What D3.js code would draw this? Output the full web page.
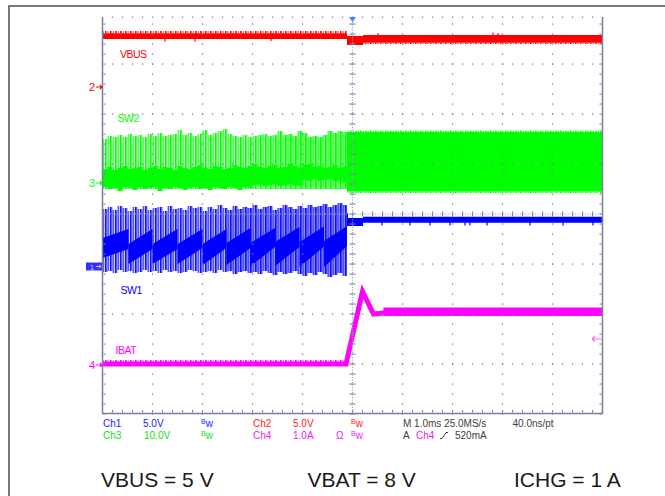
<!DOCTYPE html>
<html>
<head>
<meta charset="utf-8">
<script src="https://cdn.jsdelivr.net/npm/d3@7"></script>
<style>
  body { margin: 0; background: #fff; }
  svg text { font-family: "Liberation Sans", Arial, sans-serif; }
</style>
</head>
<body>
<svg id="scope"></svg>
<script>
var width = 665;
var height = 496;

// ---- values; time in ms, trigger at 0 ----

// sample times before the switch-over (every 0.1 ms)
var tBefore = [-5.0, -4.9, -4.8, -4.7, -4.6, -4.5, -4.4, -4.3, -4.2, -4.1,
               -4.0, -3.9, -3.8, -3.7, -3.6, -3.5, -3.4, -3.3, -3.2, -3.1,
               -3.0, -2.9, -2.8, -2.7, -2.6, -2.5, -2.4, -2.3, -2.2, -2.1,
               -2.0, -1.9, -1.8, -1.7, -1.6, -1.5, -1.4, -1.3, -1.2, -1.1,
               -1.0, -0.9, -0.8, -0.7, -0.6, -0.5, -0.4, -0.3, -0.2, -0.11];

// VBUS (Ch2, V)
var vbusT  = [-5.0, -0.11, -0.11, 0.21, 0.21, 5.0];
var vbusHi = [5.37, 5.37, 5.1, 5.1, 5.2, 5.2];
var vbusLo = [4.8, 4.8, 4.2, 4.2, 4.43, 4.43];
var vbusRipple = [5.6, 4.3];           // top ripple before, bottom ripple after
var vbusSpikes = [[-3.75, 4.8, 4.55], [-3.15, 4.8, 4.55], [-1.63, 4.8, 4.6],
                  [0.51, 5.2, 5.4], [2.81, 5.2, 5.45], [2.91, 5.2, 5.4]];

// SW2 (Ch3, V) - burst envelope, dense band, then continuous switching
var sw2EnvHi = [8.8, 9.4, 9.2, 9.6, 9.2, 9.8, 9.4, 9.6, 9.2, 9.8,
                9.4, 10.0, 9.4, 9.6, 9.8, 10.6, 9.6, 10.0, 9.4, 9.8,
                10.6, 9.6, 10.0, 10.4, 10.8, 9.8, 9.4, 9.2, 9.6, 9.2,
                9.4, 9.6, 9.8, 9.4, 9.6, 10.4, 9.6, 9.8, 9.4, 10.4,
                10.0, 9.2, 9.4, 9.2, 9.6, 10.4, 10.0, 10.4, 10.2, 10.4];
var sw2EnvLo = -1.2;
var sw2BandHi = [2.8, 3.2, 2.6, 3.0, 3.4, 2.8, 3.0, 3.2, 2.6, 3.0,
                 3.4, 2.8, 3.2, 3.0, 2.6, 3.4, 3.0, 2.8, 3.2, 3.6,
                 3.0, 2.8, 3.4, 3.2, 2.8, 3.0, 3.6, 3.2, 3.0, 3.4,
                 3.8, 3.2, 3.0, 3.4, 3.6, 3.0, 3.2, 3.8, 3.4, 3.0,
                 3.6, 3.8, 3.2, 3.4, 3.0, 3.2, 3.6, 3.0, 3.4, 3.2];
var sw2BandLo = [-0.8, -1.2, -1.0, -1.6, -0.8, -1.0, -1.4, -0.8, -1.2, -1.0,
                 -0.8, -1.6, -1.0, -1.2, -0.8, -1.0, -1.4, -1.0, -0.8, -1.2,
                 -1.0, -1.4, -0.8, -1.0, -1.2, -0.8, -1.0, -1.4, -0.8, -1.0,
                 -0.4, -0.2, -0.6, -0.4, -0.2, -0.6, -0.4, -0.2, -0.4, -0.6,
                 0.6, 0.4, 0.8, 0.4, 0.6, 0.8, 0.4, 0.6, 0.2, 0.6];
var sw2AfterT  = [-0.11, 5.0];
var sw2AfterHi = [10.2, 10.2];
var sw2AfterLo = [-1.7, -1.7];
var sw2Ripple  = [10.5, -2.0];

// SW1 (Ch1, V)
var sw1EnvHi = [5.75, 5.95, 5.65, 6.05, 5.85, 5.55, 5.95, 5.75, 6.05, 5.65,
                5.85, 5.95, 5.55, 6.05, 5.75, 5.85, 5.65, 6.05, 5.85, 5.95,
                5.55, 5.95, 5.75, 6.15, 5.85, 5.65, 6.05, 5.75, 5.95, 5.85,
                6.15, 5.75, 5.95, 6.05, 5.65, 5.85, 6.15, 5.95, 5.75, 6.05,
                5.85, 6.15, 5.95, 6.05, 6.25, 5.95, 6.15, 6.35, 6.15, 6.25];
var sw1EnvLo = [-0.55, -0.45, -0.65, -0.35, -0.55, -0.45, -0.65, -0.55, -0.35, -0.55,
                -0.45, -0.65, -0.35, -0.55, -0.45, -0.65, -0.55, -0.35, -0.45, -0.65,
                -0.55, -0.45, -0.65, -0.35, -0.55, -0.45, -0.75, -0.55, -0.45, -0.65,
                -0.55, -0.75, -0.45, -0.65, -0.85, -0.55, -0.75, -0.65, -0.45, -0.75,
                -0.95, -0.65, -0.85, -0.55, -0.75, -1.05, -0.85, -0.65, -0.95, -0.75];
// sawtooth average of the burst, one ramp per burst period
var sw1SawT0 = [-5.0, -4.48, -4.0, -3.5, -3.0, -2.52, -2.04, -1.55, -1.06, -0.57];
var sw1SawT1 = [-4.48, -4.0, -3.5, -3.0, -2.52, -2.04, -1.55, -1.06, -0.57, -0.11];
var sw1SawStartHi = [2.85, 2.25, 2.25, 2.25, 2.25, 2.35, 2.35, 2.45, 2.45, 2.55];
var sw1SawStartLo = [0.85, 0.25, 0.25, 0.25, 0.15, 0.15, 0.05, 0.05, -0.05, -0.05];
var sw1SawEndHi = [3.75, 3.75, 3.75, 3.75, 3.75, 3.85, 3.85, 3.95, 4.0, 4.05];
var sw1SawEndLo = [1.75, 1.75, 1.75, 1.85, 1.85, 1.85, 1.95, 1.95, 2.0, 2.05];
var sw1AfterT  = [-0.11, 0.21, 0.21, 5.0];
var sw1AfterHi = [4.85, 4.85, 4.98, 4.98];
var sw1AfterLo = [4.05, 4.05, 4.38, 4.38];
var sw1Spikes = [-0.1, 0.59, 1.15, 1.55, 1.95, 2.25, 2.35, 2.69, 3.55, 4.21, 4.81];

// IBAT (Ch4, A)
var ibatT = [-5.0, -0.13, 0.2, 0.42, 0.62, 5.0];
var ibatI = [0.02, 0.02, 1.47, 1.02, 1.04, 1.06];
var ibatRipple = [0.1, 1.15];
var trigLevel = 0.52;

// channel ground markers (divisions from centre) and scale per division
var ch1 = { pos: -1.05, perDiv: 5, color: "#0000ff" };
var ch2 = { pos: 2.54, perDiv: 5, color: "#ff0000" };
var ch3 = { pos: 0.62, perDiv: 10, color: "#00ff00" };
var ch4 = { pos: -3.02, perDiv: 1, color: "#ff00ff" };

var bottomNotes = ["VBUS = 5 V", "VBAT = 8 V", "ICHG = 1 A"];

// ---- drawing ----
var svg = d3.select("#scope")
            .attr("width", width)
            .attr("height", height);

var xScale = d3.scaleLinear().domain([-5, 5]).range([102.5, 602.5]);
var yScale = d3.scaleLinear().domain([-4, 4]).range([414, 14]);

function chY(ch, v) {
    return yScale(ch.pos + v / ch.perDiv);
}

var defs = svg.append("defs");
defs.append("clipPath").attr("id", "screen")
    .append("rect")
      .attr("x", 102.5).attr("y", 17)
      .attr("width", 500).attr("height", 396.5);

function stripes(id, c1, c2) {
    var p = defs.append("pattern").attr("id", id)
                .attr("patternUnits", "userSpaceOnUse")
                .attr("width", 5).attr("height", 10);
    p.append("rect").attr("x", 0).attr("width", 1.6).attr("height", 10).attr("fill", c1);
    p.append("rect").attr("x", 2.5).attr("width", 1.4).attr("height", 10).attr("fill", c2);
}
stripes("grnStripe", "#00ff00", "#40ff40");
stripes("bluStripe", "#1010ff", "#4a4aff");
stripes("redStripe", "#ff0000", "#ff7070");
stripes("magStripe", "#ff00ff", "#ff70ff");

function fade(id, color, stops) {
    var g = defs.append("linearGradient").attr("id", id)
                .attr("gradientUnits", "userSpaceOnUse")
                .attr("x1", xScale(-5)).attr("x2", xScale(-0.11))
                .attr("y1", 0).attr("y2", 0);
    stops.forEach(s => g.append("stop")
        .attr("offset", s[0])
        .attr("stop-color", color)
        .attr("stop-opacity", s[1]));
}
fade("grnFade", "#80ff80", [[0, 0.3], [0.6, 0.45], [0.79, 1], [1, 1]]);
fade("bluFade", "#8080ff", [[0, 0.4], [0.5, 0.55], [0.51, 0.85], [1, 0.95]]);

function rows(ts, his, los) {
    return ts.map((t, i) => ({
        t: t,
        hi: Array.isArray(his) ? his[i] : his,
        lo: Array.isArray(los) ? los[i] : los
    }));
}

function band(ch, curve) {
    return d3.area()
             .curve(curve || d3.curveLinear)
             .x(d => xScale(d.t))
             .y0(d => chY(ch, d.lo))
             .y1(d => chY(ch, d.hi));
}

var plot = svg.append("g").attr("clip-path", "url(#screen)");

// VBUS
plot.append("path")
    .datum(rows([-5.0, -0.11], vbusRipple[0], vbusHi[0]))
    .attr("fill", "url(#redStripe)")
    .attr("d", band(ch2));
plot.append("path")
    .datum(rows([0.21, 5.0], vbusLo[4], vbusRipple[1]))
    .attr("fill", "url(#redStripe)")
    .attr("d", band(ch2));
plot.append("path")
    .datum(rows(vbusT, vbusHi, vbusLo))
    .attr("fill", ch2.color)
    .attr("d", band(ch2));
plot.selectAll(".vbus-spike")
    .data(vbusSpikes)
    .enter()
    .append("line")
      .attr("x1", d => xScale(d[0])).attr("x2", d => xScale(d[0]))
      .attr("y1", d => chY(ch2, d[1])).attr("y2", d => chY(ch2, d[2]))
      .attr("stroke", ch2.color).attr("stroke-width", 1.2);

// SW2
var sw2Env = rows(tBefore, sw2EnvHi, sw2EnvLo);
plot.append("path").datum(sw2Env)
    .attr("fill", "url(#grnFade)")
    .attr("d", band(ch3, d3.curveStepAfter));
plot.append("path").datum(sw2Env)
    .attr("fill", "url(#grnStripe)")
    .attr("d", band(ch3, d3.curveStepAfter));
plot.append("path")
    .datum(rows(tBefore, sw2BandHi, sw2BandLo))
    .attr("fill", ch3.color)
    .attr("d", band(ch3, d3.curveStepAfter));
plot.append("path")
    .datum(rows(sw2AfterT, sw2Ripple[0], sw2AfterHi[0]))
    .attr("fill", "url(#grnStripe)")
    .attr("d", band(ch3));
plot.append("path")
    .datum(rows(sw2AfterT, sw2AfterLo[0], sw2Ripple[1]))
    .attr("fill", "url(#grnStripe)")
    .attr("d", band(ch3));
plot.append("path")
    .datum(rows(sw2AfterT, sw2AfterHi, sw2AfterLo))
    .attr("fill", ch3.color)
    .attr("d", band(ch3));

// SW1
var sw1Env = rows(tBefore, sw1EnvHi, sw1EnvLo);
plot.append("path").datum(sw1Env)
    .attr("fill", "url(#bluFade)")
    .attr("d", band(ch1, d3.curveStepAfter));
plot.append("path").datum(sw1Env)
    .attr("fill", "url(#bluStripe)")
    .attr("d", band(ch1, d3.curveStepAfter));

var saw = sw1SawT0.map((t0, i) => [
    { t: t0, hi: sw1SawStartHi[i], lo: sw1SawStartLo[i] },
    { t: sw1SawT1[i], hi: sw1SawEndHi[i], lo: sw1SawEndLo[i] }
]);
plot.selectAll(".saw")
    .data(saw)
    .enter()
    .append("path")
      .attr("fill", ch1.color)
      .attr("d", band(ch1));

plot.append("path")
    .datum(rows(sw1AfterT, sw1AfterHi, sw1AfterLo))
    .attr("fill", ch1.color)
    .attr("d", band(ch1));
plot.selectAll(".sw1-spike")
    .data(sw1Spikes)
    .enter()
    .append("line")
      .attr("x1", d => xScale(d)).attr("x2", d => xScale(d))
      .attr("y1", d => chY(ch1, d < 0 ? 5.35 : 4.5))
      .attr("y2", d => chY(ch1, 4.1))
      .attr("stroke", ch1.color).attr("stroke-width", 1.2);

// IBAT
plot.append("path")
    .datum(rows([-5.0, -0.13], ibatRipple[0], ibatI[0]))
    .attr("fill", "url(#magStripe)")
    .attr("d", band(ch4));
plot.append("path")
    .datum(rows([0.62, 5.0], ibatRipple[1], ibatI[5] - 0.08))
    .attr("fill", ch4.color)
    .attr("d", band(ch4));
plot.append("path")
    .datum(d3.zip(ibatT, ibatI))
    .attr("fill", "none")
    .attr("stroke", ch4.color)
    .attr("stroke-width", 5)
    .attr("d", d3.line().x(d => xScale(d[0])).y(d => chY(ch4, d[1])));

// ---- graticule (drawn over the traces like on the scope) ----
var gridColor = "#7880a0";
var grid = svg.append("g").attr("fill", gridColor);
var stepX = d3.range(-5, 5.001, 0.2);
var stepY = d3.range(-4, 4.001, 0.2).filter(v => yScale(v) > 18);

[-4, -3, -2, -1, 1, 2, 3, 4].forEach(function (t) {
    grid.selectAll(null).data(stepY).enter().append("rect")
        .attr("x", xScale(t) - 0.6).attr("y", d => yScale(d) - 0.6)
        .attr("width", 1.3).attr("height", 1.3);
});
[-3, -2, -1, 1, 2, 3].forEach(function (v) {
    grid.selectAll(null).data(stepX).enter().append("rect")
        .attr("x", d => xScale(d) - 0.6).attr("y", yScale(v) - 0.6)
        .attr("width", 1.3).attr("height", 1.3);
});
// top row of dots
grid.selectAll(null).data(stepX.slice(1, -1)).enter().append("rect")
    .attr("x", d => xScale(d) - 0.6).attr("y", 16.5)
    .attr("width", 1.3).attr("height", 1.3);
// edge ticks
grid.selectAll(null).data(stepY).enter().append("rect")
    .attr("x", 103.5).attr("y", d => yScale(d) - 0.5)
    .attr("width", 2).attr("height", 1.1);
grid.selectAll(null).data(stepY).enter().append("rect")
    .attr("x", 599.5).attr("y", d => yScale(d) - 0.5)
    .attr("width", 2).attr("height", 1.1);
grid.selectAll(null).data(stepX).enter().append("rect")
    .attr("x", d => xScale(d) - 0.5).attr("y", 410)
    .attr("width", 1.1).attr("height", 2.5);

// centre axes
svg.append("line")
    .attr("x1", xScale(0)).attr("x2", xScale(0))
    .attr("y1", 17).attr("y2", 413)
    .attr("stroke", "#9aa2c0").attr("stroke-width", 1.2)
    .attr("stroke-dasharray", "1,1.5");
svg.append("line")
    .attr("x1", 102.5).attr("x2", 602.5)
    .attr("y1", yScale(0)).attr("y2", yScale(0))
    .attr("stroke", "#9aa2c0").attr("stroke-width", 1.2)
    .attr("stroke-dasharray", "1,1.5");
grid.selectAll(null).data(stepY).enter().append("rect")
    .attr("x", xScale(0) - 3).attr("y", d => yScale(d) - 0.5)
    .attr("width", 6).attr("height", 1.1);
grid.selectAll(null).data(stepX).enter().append("rect")
    .attr("x", d => xScale(d) - 0.5).attr("y", yScale(0) - 2.5)
    .attr("width", 1.1).attr("height", 5);

// screen border
svg.append("path")
    .attr("d", "M102.5,17V413.5H602.5V17")
    .attr("fill", "none")
    .attr("stroke", gridColor)
    .attr("stroke-width", 1.5);

// trigger position marker
svg.append("path")
    .attr("d", "M" + (xScale(0) - 3.5) + ",17h7l-3.5,5z")
    .attr("fill", "#3388ff");

// trigger level arrow (Ch4)
var yTrig = chY(ch4, trigLevel);
svg.append("path")
    .attr("d", "M592," + yTrig + "h10M592," + yTrig + "l3,-2.5M592," + yTrig + "l3,2.5")
    .attr("stroke", "#ff66ff").attr("stroke-width", 1.2).attr("fill", "none");

// channel ground markers
[[ch2, "2"], [ch3, "3"], [ch4, "4"]].forEach(function (m) {
    var y = chY(m[0], 0);
    svg.append("text")
        .attr("x", 95).attr("y", y + 4)
        .attr("text-anchor", "end")
        .attr("font-size", 11)
        .attr("fill", m[0].color)
        .text(m[1]);
    svg.append("path")
        .attr("d", "M96," + y + "h6M100," + (y - 2) + "l2,2l-2,2")
        .attr("stroke", m[0].color).attr("stroke-width", 1.2).attr("fill", "none");
});
var y1 = chY(ch1, 0);
svg.append("rect")
    .attr("x", 86).attr("y", y1 - 4).attr("width", 16).attr("height", 8)
    .attr("fill", "#3030ff");
svg.append("text")
    .attr("x", 92).attr("y", y1 + 3)
    .attr("text-anchor", "middle")
    .attr("font-size", 8)
    .attr("fill", "#c8c8ff")
    .text("1");
svg.append("path")
    .attr("d", "M96," + y1 + "h5M99," + (y1 - 2) + "l2,2l-2,2")
    .attr("stroke", "#c8c8ff").attr("stroke-width", 1).attr("fill", "none");

// trace names
[["VBUS", ch2, 120, 57.5], ["SW2", ch3, 117.5, 121.5],
 ["SW1", ch1, 120.5, 294], ["IBAT", ch4, 115.5, 353.5]].forEach(function (n) {
    svg.append("text")
        .attr("x", n[2]).attr("y", n[3])
        .attr("font-size", 10.5)
        .attr("letter-spacing", -0.5)
        .attr("fill", n[1].color)
        .text(n[0]);
});

// readout under the screen
var dark = "#404040";
function readout(x, y, str, color) {
    svg.append("text")
        .attr("x", x).attr("y", y)
        .attr("font-size", 10)
        .attr("fill", color)
        .text(str);
}
function bwMark(x, y, color) {
    var t = svg.append("text").attr("x", x).attr("y", y).attr("fill", color);
    t.append("tspan").attr("font-size", 7).attr("dy", -2).text("B");
    t.append("tspan").attr("font-size", 10).attr("dy", 3).text("w");
}
readout(103, 427, "Ch1", "#1a1aff");
readout(143, 427, "5.0V", "#1a1aff");
bwMark(201, 426, "#1a1aff");
readout(253, 427, "Ch2", "#ff2020");
readout(293, 427, "5.0V", "#ff2020");
bwMark(351, 426, "#ff2020");
readout(403, 427, "M 1.0ms 25.0MS/s", dark);
readout(512.5, 427, "40.0ns/pt", dark);

readout(103, 439, "Ch3", "#10e010");
readout(144, 439, "10.0V", "#10e010");
bwMark(201, 438, "#10e010");
readout(253, 439, "Ch4", "#ee22ee");
readout(293, 439, "1.0A", "#ee22ee");
readout(336, 439, "\u03A9", "#ee22ee");
bwMark(351, 438, "#ee22ee");
readout(403, 439, "A", dark);
readout(416, 439, "Ch4", "#ee22ee");
svg.append("path")
    .attr("d", "M440,438.5h2l4,-6h2")
    .attr("stroke", dark).attr("stroke-width", 1).attr("fill", "none");
readout(455, 439, "520mA", dark);

// conditions line
var noteX = d3.scalePoint().domain(bottomNotes).range([101, 514]);
svg.selectAll(".note")
    .data(bottomNotes)
    .enter()
    .append("text")
      .attr("x", d => noteX(d))
      .attr("y", 487)
      .attr("font-size", 21)
      .attr("fill", "#1a1a1a")
      .text(d => d);

// outer frame
svg.append("path")
    .attr("d", "M9," + height + "V6H" + width)
    .attr("fill", "none")
    .attr("stroke", "#7a7a7a")
    .attr("stroke-width", 2);
</script>
</body>
</html>
